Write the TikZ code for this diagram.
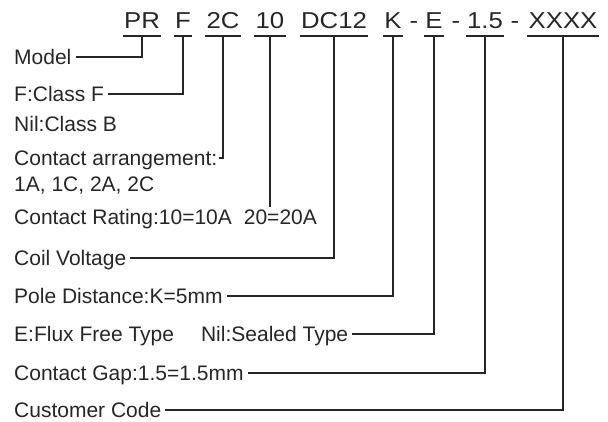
\documentclass[tikz,border=0pt]{standalone}
\usepackage{fontspec}
\setmainfont{Liberation Sans}
\newfontfamily\codefont[FakeStretch=1.12]{Liberation Sans}
\usepackage{tikz}
\usetikzlibrary{positioning}
\definecolor{ink}{HTML}{262626}
\tikzset{every node/.style={text=ink}}

\begin{document}
\begin{tikzpicture}[x=1pt,y=1pt,
    code/.style={font=\codefont\fontsize{23}{27}\selectfont,anchor=base,inner xsep=1pt,inner ysep=0pt},
    lbl/.style={font=\fontsize{21}{25}\selectfont,anchor=west,inner xsep=4pt,inner ysep=2pt,text height=15pt,text depth=0pt},
    lead/.style={draw=ink,line width=1.1pt}
]
  \useasboundingbox (0,0) rectangle (608,-421);

  % part number
  \node[code] (cPR) at (142,-28) {PR};
  \node[code] (cF)  at (183,-28) {F};
  \node[code] (c2C) at (223,-28) {2C};
  \node[code] (c10) at (270,-28) {10};
  \node[code] (cDC) at (334,-28) {DC12};
  \node[code] (cK)  at (393,-28) {K};
  \node[code] (d1)  at (414,-28) {-};
  \node[code] (cE)  at (434,-28) {E};
  \node[code] (d2)  at (456,-28) {-};
  \node[code] (cG)  at (485,-28) {1.5};
  \node[code] (d3)  at (515,-28) {-};
  \node[code] (cX)  at (563,-28) {XXXX};

  \foreach \c in {cPR,cF,c2C,c10,cDC,cK,cE,cG,cX}
      \draw[lead] ([yshift=-8pt]\c.base west) -- ([yshift=-8pt]\c.base east);

  % descriptions
  \node[lbl] (model)   at (10,-57)  {Model};
  \node[lbl] (classf)  at (10,-94)  {F:Class F};
  \node[lbl] (classb)  at (10,-124) {Nil:Class B};
  \node[lbl] (arr)     at (10,-158) {Contact arrangement:};
  \node[lbl] (arrlist) at (10,-184) {1A, 1C, 2A, 2C};
  \node[lbl] (rating)  at (10,-217) {Contact Rating:10=10A\hspace{12pt}20=20A};
  \node[lbl] (coil)    at (10,-258) {Coil Voltage};
  \node[lbl] (pole)    at (10,-296) {Pole Distance:K=5mm};
  \node[lbl] (flux)    at (10,-334) {E:Flux Free Type\hspace{27pt}Nil:Sealed Type};
  \node[lbl] (cgap)    at (10,-373) {Contact Gap:1.5=1.5mm};
  \node[lbl] (ccode)   at (10,-410) {Customer Code};

  \draw[lead] ([yshift=-8pt]cPR.base) |- (model.east);
  \draw[lead] ([yshift=-8pt]cF.base)  |- (classf.east);
  \draw[lead] ([yshift=-8pt]c2C.base) |- ([xshift=-3pt]arr.east);
  \draw[lead] ([yshift=-8pt]c10.base) -- (c10.base |- rating.north);
  \draw[lead] ([yshift=-8pt]cDC.base) |- (coil.east);
  \draw[lead] ([yshift=-8pt]cK.base)  |- (pole.east);
  \draw[lead] ([yshift=-8pt]cE.base)  |- (flux.east);
  \draw[lead] ([yshift=-8pt]cG.base)  |- (cgap.east);
  \draw[lead] ([yshift=-8pt]cX.base)  |- (ccode.east);
\end{tikzpicture}
\end{document}
